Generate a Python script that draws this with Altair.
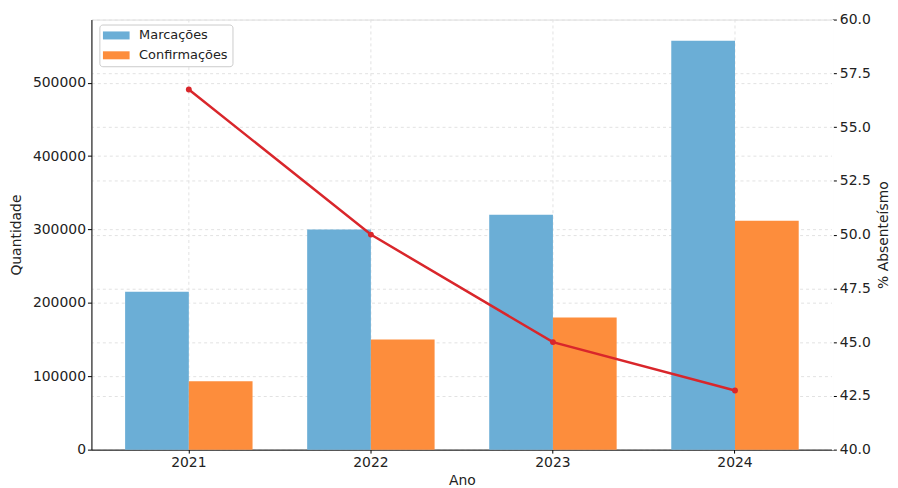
import altair as alt
import pandas as pd

anos = ["2021", "2022", "2023", "2024"]
series = ["Marcações", "Confirmações"]
marcacoes = [215000, 300000, 320000, 557000]
confirmacoes = [93000, 150000, 180000, 312000]
absenteismo = [56.75, 50.0, 45.0, 42.75]
cores = ["#6baed6", "#fd8d3c"]
cor_linha = "#d9262b"
left_ticks = [0, 100000, 200000, 300000, 400000, 500000]
right_ticks = [40.0, 42.5, 45.0, 47.5, 50.0, 52.5, 55.0, 57.5, 60.0]

rows = []
for a, m, c in zip(anos, marcacoes, confirmacoes):
    rows.append({"Ano": a, "Série": series[0], "Quantidade": m})
    rows.append({"Ano": a, "Série": series[1], "Quantidade": c})
bars_df = pd.DataFrame(rows)
line_df = pd.DataFrame({"Ano": anos, "Abs": absenteismo})

FONT = "DejaVu Sans"
TXT = "#222222"
GRID = "#e2e2e2"

xscale = alt.Scale(domain=anos, paddingInner=0.3, paddingOuter=0.185)
x_axis = alt.Axis(
    title="Ano", labelAngle=0, grid=False, bandPosition=0.5, tickExtra=False,
    domainColor="black", domainWidth=1, tickColor="black", tickSize=3.5,
    labelFontSize=14, titleFontSize=14, labelPadding=2.5, titleY=35,
    titleBaseline="alphabetic", labelColor=TXT, titleColor=TXT,
    labelFont=FONT, titleFont=FONT, titleFontWeight="normal",
)

vgrid = alt.Chart(line_df).mark_rule(color=GRID, strokeDash=[3, 3], strokeWidth=1).encode(
    x=alt.X("Ano:N", scale=xscale, axis=x_axis),
)

bars = alt.Chart(bars_df).mark_bar().encode(
    x=alt.X("Ano:N", scale=xscale, axis=x_axis),
    xOffset=alt.XOffset("Série:N", sort=series,
                        scale=alt.Scale(domain=series, paddingInner=0, paddingOuter=0)),
    y=alt.Y("Quantidade:Q",
            scale=alt.Scale(domain=[0, 586000], nice=False, zero=True),
            axis=alt.Axis(title="Quantidade", values=left_ticks, format="d",
                          grid=True, gridColor=GRID, gridDash=[3, 3],
                          domainColor="black", tickColor="black", tickSize=4,
                          labelFontSize=14, titleFontSize=14, labelPadding=2,
                          titlePadding=9, labelColor=TXT, titleColor=TXT,
                          labelFont=FONT, titleFont=FONT, titleFontWeight="normal")),
    color=alt.Color("Série:N", sort=series,
                    scale=alt.Scale(domain=series, range=cores),
                    legend=alt.Legend(
                        title=None, orient="none", legendX=8, legendY=5,
                        symbolType="M-2,-0.6H2V0.6H-2Z", symbolSize=180,
                        symbolOffset=6, symbolStrokeWidth=0,
                        labelFontSize=13, labelFont=FONT, labelColor=TXT,
                        strokeColor="#cccccc", fillColor="#ffffff", padding=4,
                        cornerRadius=3, rowPadding=6, labelOffset=16)),
)

line = alt.Chart(line_df).mark_line(
    color=cor_linha, strokeWidth=2.5,
    point=alt.OverlayMarkDef(color=cor_linha, size=35, filled=True, opacity=1),
).encode(
    x=alt.X("Ano:N", scale=xscale, axis=x_axis),
    y=alt.Y("Abs:Q",
            scale=alt.Scale(domain=[40, 60], nice=False, zero=False),
            axis=alt.Axis(orient="right", title="% Absenteísmo", values=right_ticks,
                          format=".1f", grid=True, gridColor=GRID, gridDash=[3, 3],
                          domain=True, domainColor="white", domainWidth=2,
                          tickColor="black",
                          tickSize=4, labelFontSize=14, titleFontSize=14,
                          labelPadding=3, titlePadding=6, titleAngle=270,
                          titleBaseline="top", labelColor=TXT, titleColor=TXT,
                          labelFont=FONT, titleFont=FONT, titleFontWeight="normal")),
)

chart = alt.layer(vgrid, bars, line).resolve_scale(y="independent").properties(
    width=746, height=433,
    autosize=alt.AutoSizeParams(type="none"),
    padding={"left": 84, "top": 10, "right": 58, "bottom": 37},
).configure_view(strokeWidth=0).configure(background="white")

chart.save("out.html", embed_options={"renderer": "svg", "actions": False})
